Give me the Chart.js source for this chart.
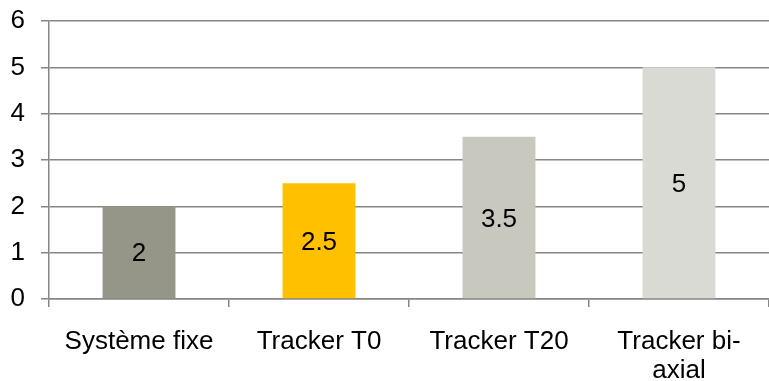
<!DOCTYPE html>
<html>
<head>
<meta charset="utf-8">
<script src="https://cdn.jsdelivr.net/npm/chart.js@4/dist/chart.umd.min.js"></script>
<style>
  body { margin: 0; background: #fff; }
  #wrap { width: 769px; height: 381px; }
</style>
</head>
<body>
<div id="wrap"><canvas id="myChart"></canvas></div>
<script>
// data
var categories = ["Système fixe", "Tracker T0", "Tracker T20", ["Tracker bi-", "axial"]];
var values = [2, 2.5, 3.5, 5];
var barColors = ["#959588", "#FFC000", "#C8C8BE", "#DADAD4"];
var yTicks = [0, 1, 2, 3, 4, 5, 6];

var gridGray = "#868686";
var fontFam = "'Liberation Sans', Arial, sans-serif";

// draw the value in the middle of each bar
var barValues = {
  id: "barValues",
  afterDatasetsDraw: function (chart) {
    var ctx = chart.ctx;
    var meta = chart.getDatasetMeta(0);
    ctx.save();
    ctx.font = "26px " + fontFam;
    ctx.fillStyle = "#000";
    ctx.textAlign = "center";
    ctx.textBaseline = "middle";
    meta.data.forEach(function (bar, i) {
      ctx.fillText(String(values[i]), bar.x, (bar.y + bar.base) / 2 + 2);
    });
    ctx.restore();
  },
};

new Chart(document.getElementById("myChart"), {
  type: "bar",
  data: {
    labels: categories,
    datasets: [
      {
        data: values,
        backgroundColor: barColors,
        borderWidth: 0,
        barPercentage: 0.405,
        categoryPercentage: 1,
      },
    ],
  },
  options: {
    responsive: true,
    maintainAspectRatio: false,
    animation: false,
    layout: { padding: { top: 21, left: 0, right: 0, bottom: 0 } },
    plugins: {
      legend: { display: false },
      tooltip: { enabled: false },
    },
    scales: {
      x: {
        offset: true,
        grid: {
          offset: true,
          drawOnChartArea: false,
          drawTicks: true,
          tickLength: 8,
          color: gridGray,
          lineWidth: 1.5,
        },
        border: { color: gridGray, width: 1.5 },
        ticks: {
          color: "#000",
          padding: 20,
          maxRotation: 0,
          autoSkip: false,
          font: { family: fontFam, size: 26, lineHeight: 1.12 },
        },
        afterFit: function (scale) {
          scale.height = 82;
          scale.paddingLeft = 0;
          scale.paddingRight = 0;
        },
      },
      y: {
        min: 0,
        max: 6,
        afterBuildTicks: function (scale) {
          scale.ticks = yTicks.map(function (v) { return { value: v }; });
        },
        grid: {
          color: gridGray,
          lineWidth: 1.5,
          tickLength: 8,
        },
        border: { color: gridGray, width: 1.5 },
        ticks: {
          color: "#000",
          padding: 16,
          font: { family: fontFam, size: 26 },
        },
        afterFit: function (scale) {
          scale.width = 49;
          scale.paddingTop = 0;
          scale.paddingBottom = 0;
        },
      },
    },
  },
  plugins: [barValues],
});
</script>
</body>
</html>
